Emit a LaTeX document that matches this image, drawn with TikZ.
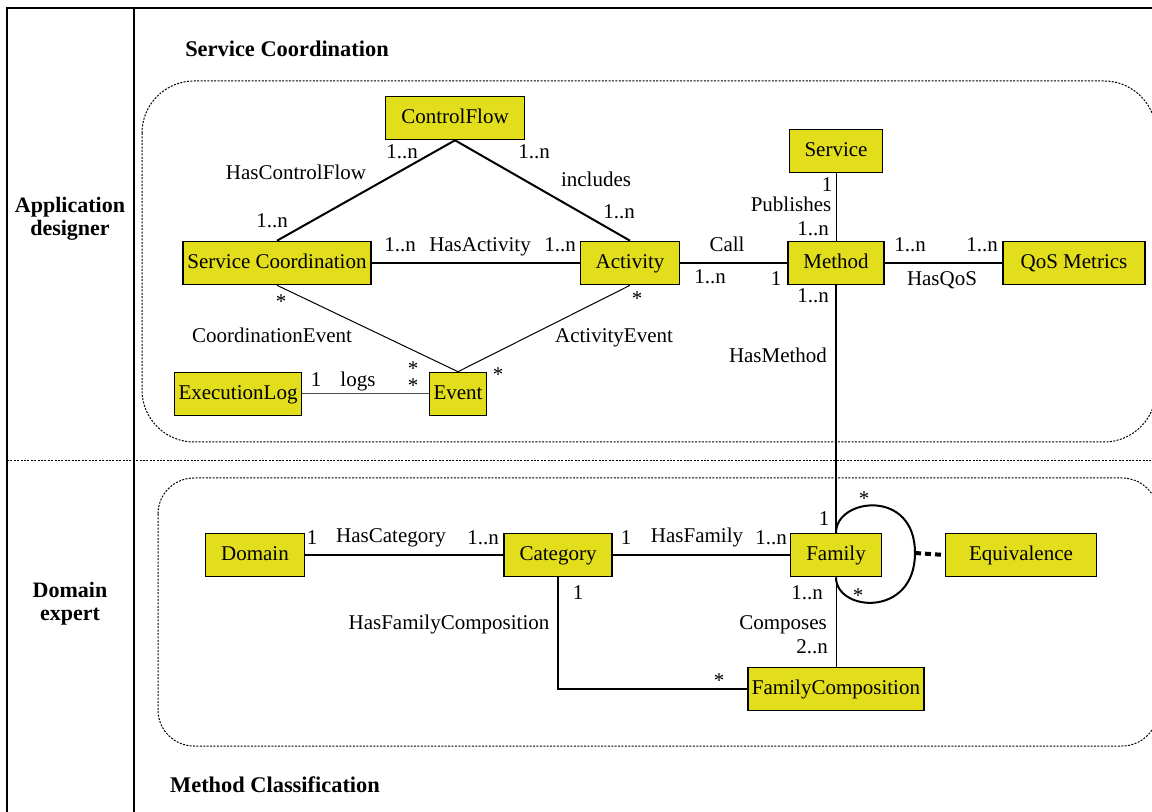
\documentclass[tikz,border=0pt]{standalone}
\usepackage{fontspec}
\setmainfont{Liberation Serif}
\usetikzlibrary{calc}
\definecolor{boxyellow}{RGB}{227,222,27}
\tikzset{
	cls/.style={draw=black, line width=0.8pt, fill=boxyellow, minimum height=21.5pt, inner xsep=2pt, text height=1.5ex, text depth=.25ex},
	lbl/.style={inner sep=0pt, text height=1.5ex, text depth=.25ex},
	mult/.style={inner sep=0pt},
	thickrel/.style={line width=1pt},
	thinrel/.style={line width=0.5pt},
	title/.style={font=\fontsize{11.2}{12}\selectfont\bfseries, inner sep=0pt},
	actor/.style={font=\fontsize{11}{11.5}\selectfont\bfseries, inner sep=0pt, align=center},
	region/.style={dash pattern=on 1pt off 0.7pt, line width=0.5pt}
}

\begin{document}
\begin{tikzpicture}[x=0.5pt, y=-0.5pt, font=\fontsize{10.5}{11.5}\selectfont]
		%%%%% START %%%%%
		\useasboundingbox (0,0) rectangle (1152,812);
		
		\draw[line width=0.6pt] (7,812) -- (7,8) -- (1152,8);
		\draw[line width=0.6pt] (134,8) -- (134,812);
		\draw[region] (7,461) -- (1152,461);
		\draw[region, rounded corners=26pt] (142,81) rectangle (1156,442);
		\draw[region, rounded corners=18pt] (158,478) rectangle (1158,746);
		
		\node[actor] (appdesigner) at (70,219) {Application\\designer};
		\node[actor] (domexpert) at (70,604) {Domain\\expert};
		\node[title] (tcoord) at (287,49) {Service Coordination};
		\node[title] (tclass) at (275,785) {Method Classification};
		
		\node[cls, minimum width=69.5pt] (controlflow) at (455,118) {ControlFlow};
		\node[cls, minimum width=46.5pt] (service) at (836,151) {Service};
		\node[cls, minimum width=94pt] (servcoord) at (277,263) {Service Coordination};
		\node[cls, minimum width=49.5pt] (activity) at (630,263) {Activity};
		\node[cls, minimum width=48pt] (method) at (836,263) {Method};
		\node[cls, minimum width=71pt] (qos) at (1074,263) {QoS Metrics};
		\node[cls, minimum width=63.5pt] (execlog) at (238,394) {ExecutionLog};
		\node[cls, minimum width=28pt] (event) at (458,394) {Event};
		
		\node[cls, minimum width=49.5pt] (domain) at (255,555) {Domain};
		\node[cls, minimum width=54pt] (category) at (558,555) {Category};
		\node[cls, minimum width=45.5pt] (family) at (836,555) {Family};
		\node[cls, minimum width=75.5pt] (equiv) at (1021,555) {Equivalence};
		\node[cls, minimum width=87pt] (famcomp) at (836,689) {FamilyComposition};
		\coordinate (loopend) at (915,553);
		
		\draw[thickrel] (controlflow.south) -- (servcoord.north);
		\draw[thickrel] (controlflow.south) -- (activity.north);
		\draw[thickrel] (servcoord) -- (activity);
		\draw[thinrel] (servcoord.south) -- (event.north);
		\draw[thinrel] (activity.south) -- (event.north);
		\draw[thinrel, black!70] (execlog) -- (event);
		\draw[thickrel] (activity) -- (method);
		\draw[thinrel] (service) -- (method);
		\draw[thickrel] (method) -- (qos);
		\draw[thickrel] (method) -- (family);
		\draw[thickrel] (domain) -- (category);
		\draw[thickrel] (category) -- (family);
		\draw[thinrel] (family) -- (famcomp);
		\draw[line width=0.7pt] (category.south) |- (famcomp.west);
		\draw[thickrel] (family.north) .. controls (836,498) and (915,488) .. (loopend) .. controls (915,618) and (836,612) .. (family.south);
		\draw[line width=2pt, dash pattern=on 3pt off 2pt] (loopend) -- (equiv.west);
		
		\node[lbl] (l1) at (402,153) {1..n};
		\node[lbl] (l2) at (534,153) {1..n};
		\node[lbl] (l3) at (296,174) {HasControlFlow};
		\node[lbl] (l4) at (596,181) {includes};
		\node[lbl] (l5) at (272,222) {1..n};
		\node[lbl] (l6) at (619,213) {1..n};
		\node[lbl] (l7) at (400,246) {1..n};
		\node[lbl] (l8) at (480,246) {HasActivity};
		\node[lbl] (l9) at (560,246) {1..n};
		\node[mult] (l10) at (281,302) {*};
		\node[mult] (l11) at (637,299) {*};
		\node[lbl] (l12) at (272,337) {CoordinationEvent};
		\node[lbl] (l13) at (614,337) {ActivityEvent};
		\node[mult, align=center, font=\fontsize{10.5}{8.5}\selectfont] (l14) at (413,377.5) {*\\*};
		\node[mult] (l16) at (498,375) {*};
		\node[lbl] (l17) at (316,381) {1};
		\node[lbl] (l18) at (358,381) {logs};
		\node[lbl] (l19) at (727,246) {Call};
		\node[lbl] (l20) at (710,278) {1..n};
		\node[lbl] (l21) at (776,280) {1};
		\node[lbl] (l22) at (827,186) {1};
		\node[lbl] (l23) at (791,206) {Publishes};
		\node[lbl] (l24) at (813,230) {1..n};
		\node[lbl] (l25) at (910,246) {1..n};
		\node[lbl] (l26) at (982,246) {1..n};
		\node[lbl] (l27) at (942,280) {HasQoS};
		\node[lbl] (l28) at (813,297) {1..n};
		\node[lbl] (l29) at (778,357) {HasMethod};
		
		\node[lbl] (l30) at (312,539) {1};
		\node[lbl] (l31) at (391,537) {HasCategory};
		\node[lbl] (l32) at (483,539) {1..n};
		\node[lbl] (l33) at (626,539) {1};
		\node[lbl] (l34) at (697,537) {HasFamily};
		\node[lbl] (l35) at (771,539) {1..n};
		\node[lbl] (l36) at (824,520) {1};
		\node[mult] (l37) at (864,499) {*};
		\node[mult] (l38) at (858,596) {*};
		\node[lbl] (l39) at (578,594) {1};
		\node[lbl] (l40) at (449,624) {HasFamilyComposition};
		\node[lbl] (l41) at (807,594) {1..n};
		\node[lbl] (l42) at (783,624) {Composes};
		\node[lbl] (l43) at (812,648) {2..n};
		\node[mult] (l44) at (719,681) {*};
		%%%%% END %%%%%
\end{tikzpicture}
\end{document}
